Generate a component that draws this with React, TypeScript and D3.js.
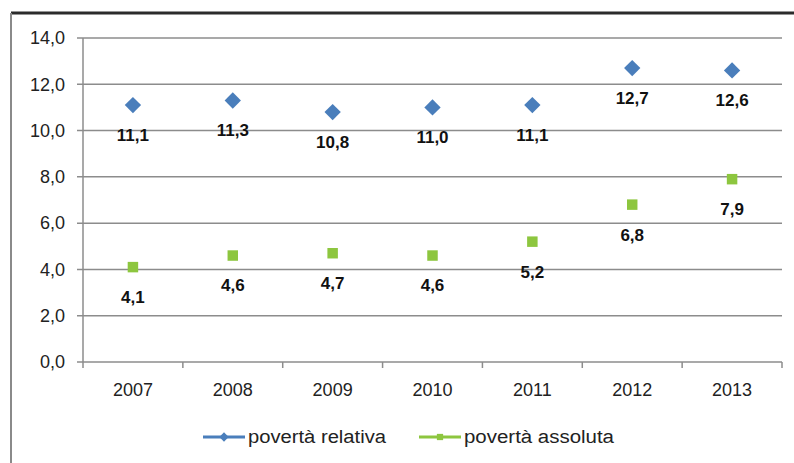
import React from "react";
import * as d3 from "d3";

const years = ["2007", "2008", "2009", "2010", "2011", "2012", "2013"];
const povertaRelativa = [11.1, 11.3, 10.8, 11.0, 11.1, 12.7, 12.6];
const povertaAssoluta = [4.1, 4.6, 4.7, 4.6, 5.2, 6.8, 7.9];
const yTicks = [0, 2, 4, 6, 8, 10, 12, 14];
const seriesNames = ["povertà relativa", "povertà assoluta"];

const W = 794;
const H = 463;
const left = 83;
const right = 782;
const top = 38;
const bottom = 362;

const BLUE = "#4A7EBB";
const GREEN = "#8DC63F";
const FONT = "'Liberation Sans', Arial, sans-serif";

const fmt = (v: number) => v.toFixed(1).replace(".", ",");

export default function App() {
  const x = d3.scaleBand<string>().domain(years).range([left, right]);
  const y = d3.scaleLinear().domain([0, 14]).range([bottom, top]);
  const cx = (d: string) => (x(d) as number) + x.bandwidth() / 2;
  const diamond = d3.symbol().type(d3.symbolDiamond2).size(170)();
  const square = d3.symbol().type(d3.symbolSquare2).size(140)();
  const smallDiamond = d3.symbol().type(d3.symbolDiamond2).size(55)();
  const smallSquare = d3.symbol().type(d3.symbolSquare2).size(50)();

  const legendY = 437;
  const legendItems = [
    { name: seriesNames[0], x0: 203, color: BLUE, sym: smallDiamond, len: 138 },
    { name: seriesNames[1], x0: 419, color: GREEN, sym: smallSquare, len: 150 },
  ];

  return (
    <svg
      width={W}
      height={H}
      style={{ position: "absolute", left: 0, top: 0, background: "#fff" }}
      fontFamily={FONT}
    >
      <rect x={0} y={0} width={W} height={H} fill="#fff" />
      {/* frame */}
      <line x1={11} x2={W} y1={13} y2={13} stroke="#2b2b2b" strokeWidth={3} />
      <line x1={11} x2={11} y1={13} y2={H} stroke="#8a8a8a" strokeWidth={2} />

      {/* gridlines and y labels */}
      {yTicks.map((t) => (
        <g key={t}>
          <line
            x1={left - 6}
            x2={right}
            y1={y(t)}
            y2={y(t)}
            stroke="#8c8c8c"
            strokeWidth={1.5}
          />
          <text
            x={65}
            y={y(t)}
            dy="0.35em"
            textAnchor="end"
            fontSize={18}
            fill="#222"
          >
            {fmt(t)}
          </text>
        </g>
      ))}
      {/* y axis */}
      <line x1={left} x2={left} y1={top} y2={bottom} stroke="#8c8c8c" strokeWidth={1.5} />
      {/* x ticks */}
      {years.concat(["end"]).map((d, i) => {
        const xx = left + i * x.bandwidth();
        return (
          <line key={"t" + i} x1={xx} x2={xx} y1={bottom} y2={bottom + 6} stroke="#8c8c8c" strokeWidth={1.5} />
        );
      })}
      {years.map((d) => (
        <text key={d} x={cx(d)} y={390} dy="0.35em" textAnchor="middle" fontSize={18} fill="#222">
          {d}
        </text>
      ))}

      {/* series relativa */}
      {years.map((d, i) => (
        <g key={"r" + d}>
          <path d={diamond} transform={`translate(${cx(d)},${y(povertaRelativa[i])})`} fill={BLUE} />
          <text
            x={cx(d)}
            y={y(povertaRelativa[i]) + 30}
            dy="0.35em"
            textAnchor="middle"
            fontSize={17}
            fontWeight="bold"
            fill="#111"
          >
            {fmt(povertaRelativa[i])}
          </text>
        </g>
      ))}
      {/* series assoluta */}
      {years.map((d, i) => (
        <g key={"a" + d}>
          <path d={square} transform={`translate(${cx(d)},${y(povertaAssoluta[i])})`} fill={GREEN} />
          <text
            x={cx(d)}
            y={y(povertaAssoluta[i]) + 30}
            dy="0.35em"
            textAnchor="middle"
            fontSize={17}
            fontWeight="bold"
            fill="#111"
          >
            {fmt(povertaAssoluta[i])}
          </text>
        </g>
      ))}

      {/* legend */}
      {legendItems.map((it) => (
        <g key={it.name}>
          <line x1={it.x0} x2={it.x0 + 42} y1={legendY} y2={legendY} stroke={it.color} strokeWidth={3} />
          <path d={it.sym} transform={`translate(${it.x0 + 21},${legendY})`} fill={it.color} />
          <text
            x={it.x0 + 45}
            y={legendY}
            dy="0.35em"
            fontSize={18}
            fill="#222"
            textLength={it.len}
            lengthAdjust="spacingAndGlyphs"
          >
            {it.name}
          </text>
        </g>
      ))}
    </svg>
  );
}
